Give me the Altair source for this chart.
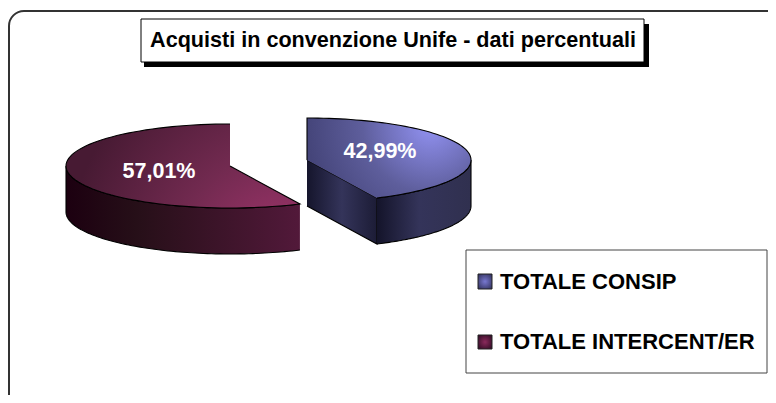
import math
import altair as alt
import pandas as pd

# ---- chart values ----
CATEGORIES = ["TOTALE CONSIP", "TOTALE INTERCENT/ER"]
SHARES = [42.99, 57.01]
LABELS = ["42,99%", "57,01%"]
TITLE = "Acquisti in convenzione Unife - dati percentuali"

# ---- layout (page pixels; the scales below map them onto the canvas) ----
W, H = 760, 387
X = alt.X("x:Q", axis=None, scale=alt.Scale(domain=[8, 8 + W], range=[0, W], nice=False, zero=False))
Y = alt.Y("y:Q", axis=None, scale=alt.Scale(domain=[8, 8 + H], range=[0, H], nice=False, zero=False))
X2, Y2 = alt.X2("x2:Q"), alt.Y2("y2:Q")
RX, RY, DEPTH = 164, 42, 46
FONT = "Liberation Sans"


def ell(cx, cy, t):
    return cx + RX * math.sin(t), cy + RY * math.cos(t) * -1


def arc(cx, cy, a, b, dy=0, n=80):
    return [(ell(cx, cy, a + (b - a) * i / n)[0], ell(cx, cy, a + (b - a) * i / n)[1] + dy) for i in range(n + 1)]


def poly(points, fill, stroke="black", sw=1.1):
    df = pd.DataFrame({"x": [p[0] for p in points], "y": [p[1] for p in points], "o": range(len(points))})
    return alt.Chart(df).mark_line(filled=True, fill=fill, stroke=stroke, strokeWidth=sw, clip=False).encode(
        x=X, y=Y, order="o:Q")


def box(x, y, x2, y2, **kw):
    df = pd.DataFrame({"x": [x], "y": [y], "x2": [x2], "y2": [y2]})
    return alt.Chart(df).mark_rect(**kw).encode(x=X, y=Y, x2=X2, y2=Y2)


def text(x, y, s, **kw):
    df = pd.DataFrame({"x": [x], "y": [y], "s": [s]})
    return alt.Chart(df).mark_text(font=FONT, fontWeight="bold", baseline="middle", **kw).encode(x=X, y=Y, text="s:N")


def lin(stops):
    return alt.LinearGradient(gradient="linear", x1=0, y1=0, x2=1, y2=0,
                              stops=[alt.GradientStop(offset=o, color=c) for o, c in stops])


def rad(x, y, r, stops):
    return alt.RadialGradient(gradient="radial", x1=x, y1=y, x2=x, y2=y, r1=0, r2=r,
                              stops=[alt.GradientStop(offset=o, color=c) for o, c in stops])


split = 2 * math.pi * SHARES[0] / 100
blue_c = (307, 160)
red_c = (230, 166)

layers = []
# outer frame: its right and bottom sides lie beyond the picture, as in the reference
layers.append(box(9, 11, 800, 425, fill="white", stroke="#333333", strokeWidth=2, cornerRadius=15))
# title
layers.append(box(144, 24, 649, 67, fill="black"))
layers.append(box(141, 19, 644, 62, fill="white", stroke="black", strokeWidth=1))
layers.append(text(393, 41, TITLE, fontSize=21.6, align="center", color="black"))

# blue slice: inner wall, outer wall, top
bc = blue_c
top_end = ell(*bc, split)
wall = [bc, top_end, (top_end[0], top_end[1] + DEPTH), (bc[0], bc[1] + DEPTH)]
layers.append(poly(wall, lin([(0, "#15152c"), (0.5, "#34345a"), (1, "#1c1c36")])))
outer = arc(*bc, split, math.pi / 2) + arc(*bc, math.pi / 2, split, dy=DEPTH)
layers.append(poly(outer, lin([(0, "#14142a"), (0.45, "#34345a"), (1, "#30304f")])))
layers.append(poly([bc] + arc(*bc, 0, split),
                   rad(0.75, 0.3, 0.75, [(0, "#9292f2"), (0.55, "#5e5e9c"), (1, "#45457a")])))

# red slice: outer wall, top
rc = red_c
outer = arc(*rc, split, 2 * math.pi * 0.75) + arc(*rc, 2 * math.pi * 0.75, split, dy=DEPTH)
layers.append(poly(outer, lin([(0, "#1c0010"), (0.3, "#260f18"), (1, "#52193a")])))
layers.append(poly([rc] + arc(*rc, split, 2 * math.pi),
                   rad(0.95, 0.9, 0.95, [(0, "#a63670"), (0.5, "#722a50"), (1, "#471a33")])))

layers.append(text(380, 152, LABELS[0], fontSize=21.5, align="center", color="white"))
layers.append(text(159, 172, LABELS[1], fontSize=21.5, align="center", color="white"))

# legend
layers.append(box(466, 250, 767, 373, fill="white", stroke="#444444", strokeWidth=1))
swatches = [("#7878d0", "#2a2a50", 274, 289), ("#8a2a5c", "#2a0a20", 335, 349)]
for name, (c1, c2, y1, y2) in zip(CATEGORIES, swatches):
    layers.append(box(478, y1, 492, y2, fill=rad(0.5, 0.5, 0.7, [(0, c1), (1, c2)]), stroke="#222222", strokeWidth=1))
    layers.append(text(500, (y1 + y2) / 2, name, fontSize=22, align="left", color="black"))

chart = alt.layer(*layers).properties(width=W, height=H, padding=0, autosize="none").configure_view(stroke=None)
chart.save("out.html", embed_options={"renderer": "svg", "actions": False})
